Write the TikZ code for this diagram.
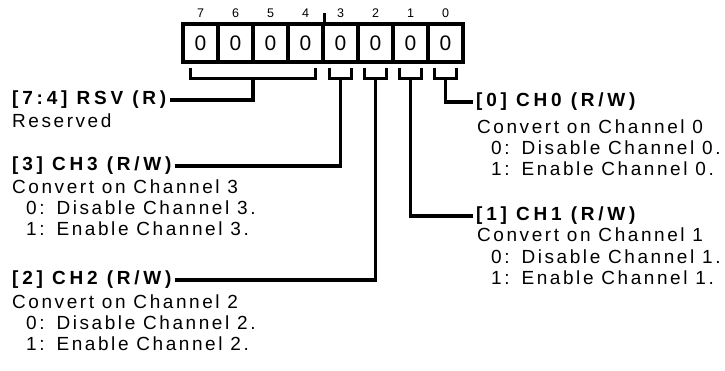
\documentclass[tikz,border=0pt]{standalone}
\usepackage{fontspec}
\setmainfont{Liberation Sans}[LetterSpace=13.5]
\newfontfamily\ttlfont{Liberation Sans}[LetterSpace=20, BoldFont={* Bold}]
\newfontfamily\plainfont{Liberation Sans}
\usetikzlibrary{calc}
\begin{document}
\begin{tikzpicture}[x=1pt,y=-1pt,
  reg/.style={draw, line width=3.2pt, minimum width=35pt, minimum height=38pt, inner sep=0pt, font=\plainfont\fontsize{21}{21}\selectfont},
  bitno/.style={font=\plainfont\fontsize{12.5}{12.5}\selectfont, inner sep=0pt},
  wire/.style={line width=3.2pt, line join=miter},
  ttl/.style={font=\ttlfont\bfseries\fontsize{19}{21}\selectfont, inner sep=3pt},
  dsc/.style={font=\fontsize{19}{21}\selectfont, inner sep=0pt, anchor=base west},
]
\useasboundingbox (0,0) rectangle (725,371);
% register boxes
\foreach \i in {0,...,7}{
  \pgfmathtruncatemacro{\b}{7-\i}
  \node[reg] (b\b) at ({200.5+35*\i},43) {0};
  \node[bitno] (n\b) at ({200.5+35*\i},13) {\b};
}
\draw[wire] (b4.north east) -- ++(0,-9);
% brackets
\coordinate (s74) at ($(b7.south)!0.5!(b4.south)+(0,15)$);
\draw[wire] ($(b7.south)+(-10,4)$) |- (s74) -| ($(b4.south)+(10,4)$);
\foreach \b in {3,2,1,0}{
  \coordinate (s\b) at ($(b\b.south)+(0,15)$);
  \draw[wire] ($(s\b)+(-11,-11)$) |- (s\b) -| ($(s\b)+(11,-11)$);
}
% left titles
\node[ttl, anchor=west] (t74) at (9,100) {[7:4] RSV (R)};
\node[dsc] (d74a) at (12,128) {Reserved};
\node[ttl, anchor=west] (t3) at (9,166) {[3] CH3 (R/W)};
\node[dsc] (d3a) at (12,194) {Convert on Channel 3};
\node[dsc] (d3b) at (26,215) {0:\hspace{12pt}Disable Channel 3.};
\node[dsc] (d3c) at (26,236) {1:\hspace{12pt}Enable Channel 3.};
\node[ttl, anchor=west] (t2) at (9,280) {[2] CH2 (R/W)};
\node[dsc] (d2a) at (12,308) {Convert on Channel 2};
\node[dsc] (d2b) at (26,329) {0:\hspace{12pt}Disable Channel 2.};
\node[dsc] (d2c) at (26,350) {1:\hspace{12pt}Enable Channel 2.};
% right titles
\node[ttl, anchor=west] (t0) at (473,102) {[0] CH0 (R/W)};
\node[dsc] (d0a) at (477,134) {Convert on Channel 0};
\node[dsc] (d0b) at (491,155) {0:\hspace{12pt}Disable Channel 0.};
\node[dsc] (d0c) at (491,176) {1:\hspace{12pt}Enable Channel 0.};
\node[ttl, anchor=west] (t1) at (473,216) {[1] CH1 (R/W)};
\node[dsc] (d1a) at (477,242) {Convert on Channel 1};
\node[dsc] (d1b) at (491,263) {0:\hspace{12pt}Disable Channel 1.};
\node[dsc] (d1c) at (491,284) {1:\hspace{12pt}Enable Channel 1.};
% connectors
\draw[wire] (s74) |- (t74.east);
\draw[wire] (s3) |- (t3.east);
\draw[wire] (s2) |- (t2.east);
\draw[wire] (s1) |- (t1.west);
\draw[wire] (s0) |- (t0.west);
\end{tikzpicture}
\end{document}
